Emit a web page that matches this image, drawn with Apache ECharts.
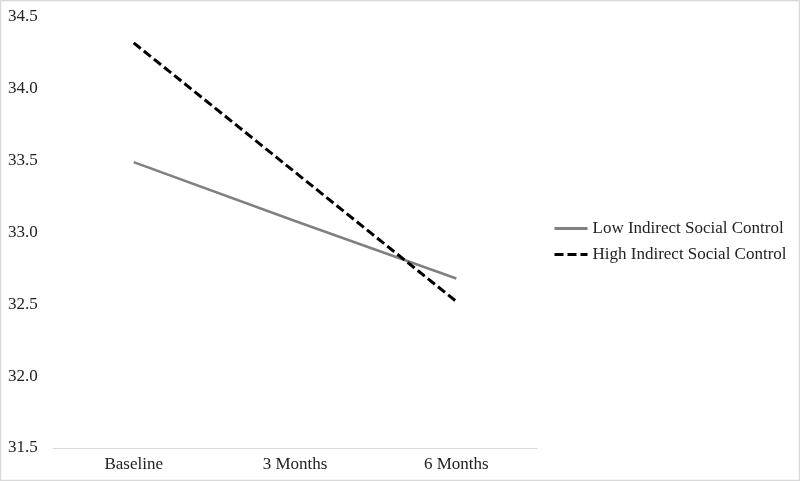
<!DOCTYPE html>
<html>
<head>
<meta charset="utf-8">
<script src="https://cdn.jsdelivr.net/npm/echarts@6/dist/echarts.min.js"></script>
<style>
html,body{margin:0;padding:0;background:#fff;}
#chart{width:800px;height:481px;}
</style>
</head>
<body>
<div id="chart"></div>
<script>
const categories = ["Baseline", "3 Months", "6 Months"];
const lowISC = [33.49, 33.08, 32.68];
const highISC = [34.32, 33.42, 32.52];
const seriesNames = ["Low Indirect Social Control", "High Indirect Social Control"];
const yMin = 31.5, yMax = 34.5, yStep = 0.5;

const chart = echarts.init(document.getElementById('chart'), null, {renderer: 'canvas'});
const font = '"Liberation Serif", "Times New Roman", serif';
chart.setOption({
  animation: false,
  backgroundColor: '#fff',
  textStyle: {fontFamily: font},
  graphic: [{
    type: 'rect', silent: true,
    shape: {x: 0.5, y: 0.5, width: 799, height: 480},
    style: {fill: 'none', stroke: '#d9d9d9', lineWidth: 1.5}
  }],
  grid: {left: 53, right: 263, top: 17, bottom: 33, containLabel: false},
  legend: {
    orient: 'vertical', left: 548, top: 215, itemGap: 9,
    itemWidth: 33, itemHeight: 14,
    itemStyle: {opacity: 0},
    lineStyle: {width: 3},
    textStyle: {fontFamily: font, fontSize: 17, color: '#222'},
    data: seriesNames
  },
  xAxis: {
    type: 'category', data: categories, boundaryGap: true,
    axisLine: {lineStyle: {color: '#d9d9d9', width: 1}},
    axisTick: {show: false},
    axisLabel: {fontFamily: font, fontSize: 17, color: '#222', margin: 8}
  },
  yAxis: {
    type: 'value', min: yMin, max: yMax, interval: yStep,
    axisLine: {show: false}, axisTick: {show: false},
    splitLine: {show: false},
    axisLabel: {fontFamily: font, fontSize: 17, color: '#222', align: 'left', margin: 45,
      formatter: v => v.toFixed(1)}
  },
  series: [
    {name: seriesNames[0], type: 'line', data: lowISC, symbol: 'none',
     lineStyle: {color: '#808080', width: 2.5}, itemStyle: {color: '#808080'}},
    {name: seriesNames[1], type: 'line', data: highISC, symbol: 'none',
     lineStyle: {color: '#000', width: 3, type: [9, 4]}, itemStyle: {color: '#000'}}
  ]
});
</script>
</body>
</html>
